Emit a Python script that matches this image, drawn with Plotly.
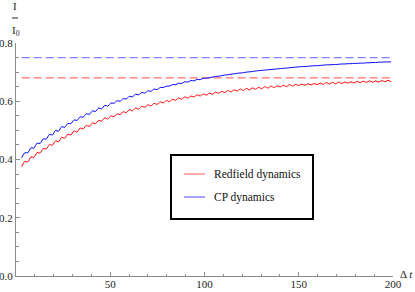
import numpy as np
import plotly.graph_objects as go

# ---- data ----
T_START = 3.0
T_STEP = 1.633
red_values = [
    .376, .393, .392, .409, .407, .424, .422, .438, .436, .451,
    .449, .464, .461, .476, .473, .487, .484, .498, .494, .508,
    .505, .517, .514, .526, .523, .534, .532, .543, .539, .550,
    .547, .557, .554, .564, .561, .571, .567, .577, .573, .583,
    .579, .588, .584, .593, .589, .598, .594, .603, .598, .607,
    .603, .611, .607, .615, .611, .618, .615, .622, .618, .625,
    .621, .628, .624, .631, .627, .634, .630, .637, .632, .639,
    .635, .642, .637, .644, .639, .646, .641, .648, .643, .650,
    .645, .652, .647, .653, .649, .655, .650, .657, .652, .658,
    .654, .659, .655, .660, .656, .661, .657, .662, .658, .664,
    .659, .665, .660, .666, .661, .666, .662, .667, .663, .668,
    .664, .669, .665, .670, .665, .670, .666, .671, .667, .672,
    .667,
]
blue_values = [
    .406, .423, .423, .440, .439, .456, .455, .471, .470, .486,
    .484, .500, .497, .513, .510, .524, .523, .536, .534, .547,
    .545, .557, .555, .567, .565, .577, .574, .586, .583, .594,
    .593, .602, .600, .609, .608, .617, .615, .624, .622, .630,
    .628, .636, .634, .642, .640, .647, .647, .652, .652, .657,
    .657, .662, .661, .667, .666, .671, .670, .675, .674, .679,
    .679, .681, .683, .685, .686, .688, .690, .691, .693, .694,
    .696, .697, .698, .700, .701, .702, .704, .705, .706, .707,
    .708, .709, .710, .711, .712, .713, .714, .715, .716, .717,
    .718, .719, .719, .720, .721, .722, .722, .723, .724, .725,
    .725, .726, .726, .727, .728, .728, .729, .729, .730, .730,
    .731, .731, .732, .732, .733, .733, .734, .734, .735, .735,
    .735,
]
red_limit = 0.68
blue_limit = 0.75
x_ticks = [50, 100, 150, 200]
y_ticks = [0.0, 0.2, 0.4, 0.6, 0.8]
y_tick_labels = ["0.0", "0.2", "0.4", "0.6", "0.8"]
legend_labels = ["Redfield dynamics", "CP dynamics"]

t = np.round(T_START + T_STEP * np.arange(len(red_values)), 3)

W, H = 415, 292
ML, MR, MT, MB = 16, 22, 43, 16
PW, PH = W - ML - MR, H - MT - MB


def px(x):
    return (x - ML) / PW


def py(y):
    return (H - MB - y) / PH


SERIF = "Liberation Serif"
AXIS_COL = "#8c8c8c"

fig = go.Figure()
fig.add_trace(go.Scatter(x=[t[0], t[-1]], y=[red_limit, red_limit], mode="lines",
                         line=dict(color="#ff7070", width=1.2, dash="8px,4px"),
                         showlegend=False, hoverinfo="skip"))
fig.add_trace(go.Scatter(x=[t[0], t[-1]], y=[blue_limit, blue_limit], mode="lines",
                         line=dict(color="#8080ff", width=1.2, dash="8px,4px"),
                         showlegend=False, hoverinfo="skip"))
fig.add_trace(go.Scatter(x=t, y=red_values, mode="lines", name=legend_labels[0],
                         line=dict(color="#ff0000", width=1, shape="spline", smoothing=0.6),
                         showlegend=False))
fig.add_trace(go.Scatter(x=t, y=blue_values, mode="lines", name=legend_labels[1],
                         line=dict(color="#0000ff", width=1, shape="spline", smoothing=0.6),
                         showlegend=False))

fig.update_xaxes(range=[0, 200], showline=True, linecolor=AXIS_COL, linewidth=1,
                 ticks="inside", ticklen=4, tickcolor=AXIS_COL, tickwidth=1,
                 tickvals=x_ticks, ticktext=[str(v) for v in x_ticks],
                 tickfont=dict(family=SERIF, size=11, color="#222"),
                 ticklabelstandoff=-2,
                 minor=dict(dtick=10, tick0=0, ticks="inside", ticklen=2.5, tickcolor=AXIS_COL),
                 showgrid=False, zeroline=False, automargin=False)
fig.update_yaxes(range=[0, 0.8], showline=True, linecolor=AXIS_COL, linewidth=1,
                 ticks="inside", ticklen=4, tickcolor=AXIS_COL, tickwidth=1,
                 tickvals=y_ticks, ticktext=y_tick_labels,
                 tickfont=dict(family=SERIF, size=11, color="#222"),
                 minor=dict(dtick=0.05, tick0=0, ticks="inside", ticklen=2.5, tickcolor=AXIS_COL),
                 showgrid=False, zeroline=False, automargin=False)

shapes = []
annotations = []
# legend box
shapes.append(dict(type="rect", xref="paper", yref="paper",
                   x0=px(171), x1=px(313), y0=py(219), y1=py(155),
                   line=dict(color="black", width=2), fillcolor="white", layer="above"))
for i, (lab, col) in enumerate(zip(legend_labels, ["#ff5a5a", "#4a4aff"])):
    yy = 174 + 23 * i
    shapes.append(dict(type="line", xref="paper", yref="paper",
                       x0=px(184), x1=px(205), y0=py(yy), y1=py(yy),
                       line=dict(color=col, width=1), layer="above"))
    annotations.append(dict(text=lab, xref="paper", yref="paper", x=px(212), y=py(yy),
                            xanchor="left", yanchor="middle", showarrow=False,
                            font=dict(family=SERIF, size=11.5, color="#111")))
# y label fraction I / I0
annotations.append(dict(text="I", xref="paper", yref="paper", x=px(15), y=py(6),
                        xanchor="center", yanchor="middle", showarrow=False,
                        font=dict(family=SERIF, size=11, color="#222")))
shapes.append(dict(type="line", xref="paper", yref="paper", x0=px(12), x1=px(18),
                   y0=py(18), y1=py(18), line=dict(color="#222", width=1)))
annotations.append(dict(text="I<sub>0</sub>", xref="paper", yref="paper", x=px(16), y=py(31),
                        xanchor="center", yanchor="middle", showarrow=False,
                        font=dict(family=SERIF, size=11, color="#222")))
# x label
annotations.append(dict(text="Δ <i>t</i>", xref="paper", yref="paper", x=px(398), y=py(274),
                        xanchor="left", yanchor="middle", showarrow=False,
                        font=dict(family=SERIF, size=11, color="#222")))

fig.update_layout(width=W, height=H,
                  margin=dict(l=ML, r=MR, t=MT, b=MB, autoexpand=False),
                  paper_bgcolor="white", plot_bgcolor="white",
                  shapes=shapes, annotations=annotations, showlegend=False)

fig.write_html("out.html", config={"displayModeBar": False},
               post_script="document.body.style.margin='0px';document.body.style.padding='0px';")
